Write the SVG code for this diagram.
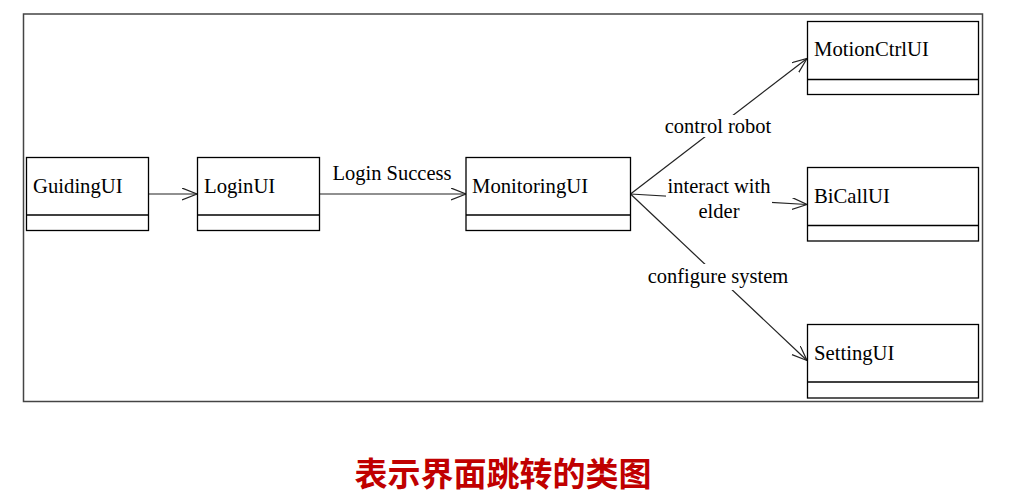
<svg xmlns="http://www.w3.org/2000/svg" width="1015" height="496" viewBox="0 0 1015 496">
<style>
.box{fill:#fff;stroke:#000;stroke-width:1.3}
.div{stroke:#000;stroke-width:1.3}
.t{font-family:"Liberation Serif","Times New Roman",serif;font-size:20.7px;fill:#000}
.lbl{font-family:"Liberation Serif","Times New Roman",serif;font-size:20.5px;fill:#000;text-anchor:middle}
.c{stroke:#222;stroke-width:1.2;fill:none}
.bg{fill:#fff}
</style>
<defs>
<marker id="open" markerWidth="16" markerHeight="14" refX="15" refY="6" orient="auto" markerUnits="userSpaceOnUse">
<path d="M0,0 L15,6 L0,12" fill="none" stroke="#222" stroke-width="1.2"/>
</marker>
</defs>
<rect width="1015" height="496" fill="#fff"/>
<rect x="23.5" y="14" width="959" height="387.5" fill="none" stroke="#444" stroke-width="1.5"/>
<g id="connectors">
<line class="c" x1="149" y1="194" x2="197" y2="194" marker-end="url(#open)"/>
<line class="c" x1="319" y1="194" x2="466" y2="194" marker-end="url(#open)"/>
<text class="lbl" x="392" y="180">Login Success</text>
<line class="c" x1="630.5" y1="194" x2="807" y2="58.5" marker-end="url(#open)"/>
<rect class="bg" x="662" y="115" width="114" height="22"/>
<text class="lbl" x="718" y="133">control robot</text>
<line class="c" x1="630.5" y1="194" x2="807" y2="204.5" marker-end="url(#open)"/>
<rect class="bg" x="666" y="174" width="106" height="48"/>
<text class="lbl" x="719" y="193">interact with</text>
<text class="lbl" x="719" y="218">elder</text>
<line class="c" x1="630.5" y1="194" x2="807" y2="360.5" marker-end="url(#open)"/>
<rect class="bg" x="645" y="264" width="147" height="26"/>
<text class="lbl" x="718" y="283">configure system</text>
</g>
<g id="GuidingUI">
<rect class="box" x="26.5" y="157.5" width="122" height="73"/>
<line class="div" x1="26.5" y1="215" x2="148.5" y2="215"/>
<text class="t" x="33" y="193">GuidingUI</text>
</g>
<g id="LoginUI">
<rect class="box" x="197.5" y="157.5" width="122" height="73"/>
<line class="div" x1="197.5" y1="215" x2="319.5" y2="215"/>
<text class="t" x="204" y="193">LoginUI</text>
</g>
<g id="MonitoringUI">
<rect class="box" x="466" y="157.5" width="164.5" height="73"/>
<line class="div" x1="466" y1="215" x2="630.5" y2="215"/>
<text class="t" x="472" y="193">MonitoringUI</text>
</g>
<g id="MotionCtrlUI">
<rect class="box" x="807.5" y="21.5" width="171" height="73"/>
<line class="div" x1="807.5" y1="79.5" x2="978.5" y2="79.5"/>
<text class="t" x="814" y="56">MotionCtrlUI</text>
</g>
<g id="BiCallUI">
<rect class="box" x="807.5" y="167.5" width="171" height="73.5"/>
<line class="div" x1="807.5" y1="225.5" x2="978.5" y2="225.5"/>
<text class="t" x="814" y="203">BiCallUI</text>
</g>
<g id="SettingUI">
<rect class="box" x="807.5" y="324.5" width="171" height="73.5"/>
<line class="div" x1="807.5" y1="382" x2="978.5" y2="382"/>
<text class="t" x="814" y="360">SettingUI</text>
</g>
<text x="503" y="486" text-anchor="middle" font-family="'Noto Sans CJK SC',sans-serif" font-weight="bold" font-size="33" fill="#c00000">表示界面跳转的类图</text>
</svg>
